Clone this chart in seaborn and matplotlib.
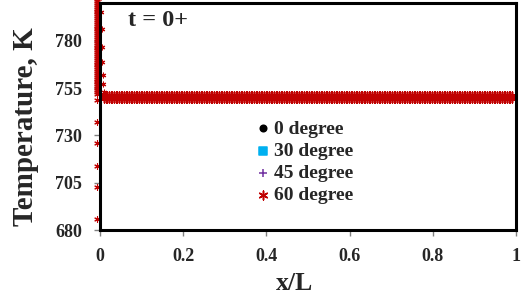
import numpy as np
import pandas as pd
import seaborn as sns
import matplotlib.pyplot as plt

# Données (t = 0+)
series = ['0 degree', '30 degree', '45 degree', '60 degree']
colors = ['#000000', '#00B0F0', '#7030A0', '#C00000']
markers = ['o', 's', '+', (6, 2, 0)]

# points sur la paroi (x/L ~ 0)
x_wall = -0.006
t_wall = [686, 703, 714, 726, 737, 749, 752, 753, 754, 755, 756, 757, 758,
          759, 760, 761, 762, 763, 764, 765, 766, 767, 768, 769, 770, 771,
          772, 773, 774, 775, 776, 777, 778, 779, 780, 781, 782, 783, 784,
          785, 786, 787, 788, 789, 790, 791, 792, 793, 794, 795, 796, 797,
          798, 799, 800, 801, 802, 803]
# couche limite près de la paroi
x_near = [0.002, 0.003, 0.004, 0.005, 0.006, 0.007, 0.008, 0.009]
t_near = [803, 795, 786, 777, 769, 762, 757, 753]
# coeur du domaine : température uniforme
x_core = np.linspace(0.01, 0.99, 246)
t_core = 750.5

df_wall = pd.DataFrame({'xL': [x_wall] * len(t_wall), 'T': t_wall})
df_near = pd.DataFrame({'xL': x_near, 'T': t_near})
df_core = pd.DataFrame({'xL': x_core, 'T': [t_core] * len(x_core)})

sns.set_style('ticks')
plt.rcParams['font.family'] = ['Liberation Serif', 'DejaVu Serif']
plt.rcParams['font.weight'] = 'bold'

fig = plt.figure(figsize=(5.23, 3.0), dpi=100)
ax = fig.add_axes([0.191, 0.233, 0.796, 0.757])

for name, c, m in zip(series, colors, markers):
    kw = dict(edgecolor=c) if m in ('o', 's') else dict()
    rouge = name == '60 degree'
    sns.scatterplot(data=df_core, x='xL', y='T', color=c, marker=m,
                    s=60 if rouge else 12, linewidth=1.1, snap=False,
                    clip_on=False, ax=ax, zorder=1, label=name, **kw)
    if rouge:
        sns.scatterplot(data=df_wall, x='xL', y='T', color=c, marker=m, s=16,
                        linewidth=0.8, clip_on=False, ax=ax, zorder=1)
        sns.scatterplot(data=df_near, x='xL', y='T', color=c, marker=m, s=12,
                        linewidth=0.8, clip_on=False, ax=ax, zorder=1)

ax.set_xlim(0, 1)
ax.set_ylim(680, 800)
ax.set_xticks([0, 0.2, 0.4, 0.6, 0.8, 1])
ax.set_xticklabels(['0', '0.2', '0.4', '0.6', '0.8', '1'])
ax.set_yticks([680, 705, 730, 755, 780])
ax.tick_params(labelsize=13, color='#808080', length=4, width=1, pad=9)
for sp in ax.spines.values():
    sp.set_visible(True)
    sp.set_linewidth(2.2)
    sp.set_color('black')
    sp.set_zorder(5)

ax.set_xlabel('x/L', fontsize=18.5, fontweight='bold')
ax.set_ylabel('Temperature, K', fontsize=21, fontweight='bold')
ax.xaxis.set_label_coords(0.468, -0.185)
ax.yaxis.set_label_coords(-0.146, 0.454)
ax.text(0.067, 0.925, 't = 0+', transform=ax.transAxes, fontsize=17.5,
        fontweight='bold', va='center')

leg = ax.legend(frameon=False, loc='upper left', bbox_to_anchor=(0.372, 0.485),
                prop={'size': 14, 'weight': 'bold'}, handletextpad=0.2,
                labelspacing=0.24, borderaxespad=0, borderpad=0, handlelength=0.8)
for h, sz in zip(leg.legend_handles, [22, 28, 40, 40]):
    h.set_sizes([sz])

fig.savefig('out.png', dpi=100)
